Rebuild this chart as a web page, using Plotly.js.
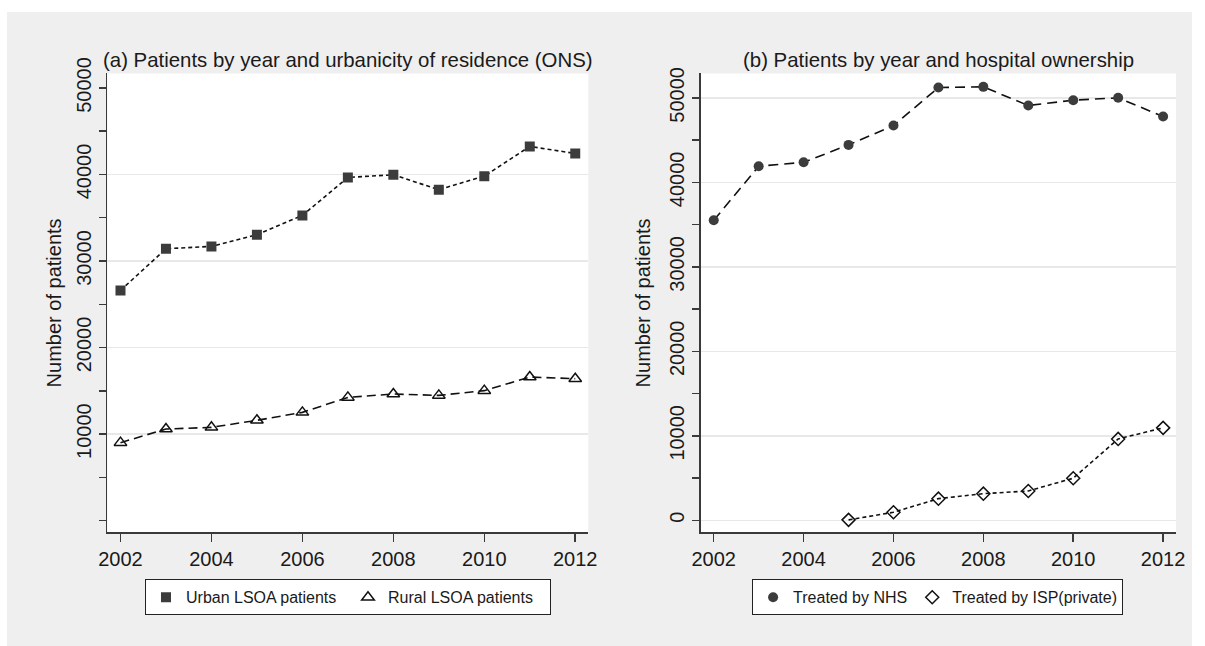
<!DOCTYPE html>
<html><head><meta charset="utf-8">
<script src="https://cdn.plot.ly/plotly-3.0.1.min.js"></script>
<style>
html,body{margin:0;padding:0;background:#ffffff;width:1205px;height:646px;overflow:hidden}
#chart{position:absolute;left:7px;top:12px;width:1185px;height:634px}
</style></head><body><div id="chart"></div>
<script>
// ---- data ----
const years = [2002, 2003, 2004, 2005, 2006, 2007, 2008, 2009, 2010, 2011, 2012];
const urban = [26600, 31420, 31690, 33040, 35270, 39660, 39970, 38240, 39810, 43240, 42430];
const rural = [9010, 10580, 10780, 11590, 12510, 14240, 14630, 14470, 15020, 16590, 16400];
const nhs   = [35500, 41900, 42370, 44430, 46720, 51220, 51300, 49090, 49720, 50000, 47780];
const ispYears = [2005, 2006, 2007, 2008, 2009, 2010, 2011, 2012];
const isp   = [50, 950, 2560, 3150, 3470, 4980, 9630, 10940];
const xTickVals = [2002, 2004, 2006, 2008, 2010, 2012];
const leftYTicks = [10000, 20000, 30000, 40000, 50000];
const leftGrid = [10000, 20000, 30000, 40000];
const rightYTicks = [0, 10000, 20000, 30000, 40000, 50000];
const titleA = '(a) Patients by year and urbanicity of residence (ONS)';
const titleB = '(b) Patients by year and hospital ownership';
const yTitle = 'Number of patients';

// ---- style ----
const FONT = 'Liberation Sans, Arial, sans-serif';
const TXT = '#1a1a1a';
const AX = '#3a3a3a';
const GRID = '#e8e8e8';
const MARK = '#3c3c3c';
const LINE = '#111111';
const SHORT = '4px,3px';
const LONG = '10px,6px';

function lineTrace(x, y, xa, ya, dash) {
  return {x: x, y: y, xaxis: xa, yaxis: ya, mode: 'lines', showlegend: false, hoverinfo: 'skip',
          line: {color: LINE, width: 1.6, dash: dash}};
}
function markTrace(x, y, xa, ya, name, marker, legend) {
  return {x: x, y: y, xaxis: xa, yaxis: ya, mode: 'markers', name: name, legend: legend,
          marker: marker};
}

const data = [
  lineTrace(years, urban, 'x', 'y', SHORT),
  lineTrace(years, rural, 'x', 'y', '9px,5px'),
  markTrace(years, urban, 'x', 'y', 'Urban LSOA patients', {symbol: 'square', size: 10, color: MARK}, 'legend'),
  markTrace(years, rural, 'x', 'y', 'Rural LSOA patients', {symbol: 'triangle-up-open', size: 11, color: LINE, line: {width: 1.5, color: LINE}}, 'legend'),
  {x: [], y: [], xaxis: 'x', yaxis: 'y3', mode: 'markers', showlegend: false, hoverinfo: 'skip'},
  lineTrace(years, nhs, 'x2', 'y2', LONG),
  lineTrace(ispYears, isp, 'x2', 'y2', SHORT),
  markTrace(years, nhs, 'x2', 'y2', 'Treated by NHS', {symbol: 'circle', size: 10, color: MARK}, 'legend2'),
  markTrace(ispYears, isp, 'x2', 'y2', 'Treated by ISP(private)', {symbol: 'diamond-open', size: 10, color: LINE, line: {width: 1.5, color: LINE}}, 'legend2')
];

const tickFont = {family: FONT, size: 20, color: TXT};
const yDom = [0.17934, 0.90300];
const leftDom = [0.08464, 0.49055];
const rightDom = [0.58540, 0.98650];

function xAxis(dom, anchor) {
  return {domain: dom, anchor: anchor, range: [2001.71, 2012.287], tickmode: 'array', tickvals: xTickVals,
          ticks: 'outside', ticklen: 8, tickwidth: 1.5, tickcolor: AX, showline: true, linecolor: AX,
          linewidth: 1.5, showgrid: false, zeroline: false, tickfont: tickFont, tickformat: 'd', fixedrange: true};
}
function yAxis(range, ticks, anchor, grid, standoff) {
  return {domain: yDom, anchor: anchor, range: range, tickmode: 'array', tickvals: ticks, tickangle: -90,
          tickformat: 'd',
          ticks: 'outside', ticklen: 7, tickwidth: 1.5, tickcolor: AX, showline: true, linecolor: AX,
          linewidth: 1.5, showgrid: grid, gridcolor: GRID, gridwidth: 1.5, zeroline: false,
          tickfont: tickFont, fixedrange: true,
          minor: {tickmode: 'linear', tick0: 0, dtick: 5000, ticks: 'outside', ticklen: 7, tickwidth: 1.5, tickcolor: AX, showgrid: false},
          title: {text: yTitle, font: {family: FONT, size: 20, color: TXT}, standoff: standoff}};
}
const legendBase = {orientation: 'h', xanchor: 'center', yanchor: 'top', y: 0.10521,
  bgcolor: '#ffffff', bordercolor: '#222222', borderwidth: 1,
  font: {family: FONT, size: 16, color: TXT}};

const layout = {
  width: 1185, height: 634,
  margin: {l: 0, r: 0, t: 0, b: 0, autoexpand: false},
  paper_bgcolor: '#efefef', plot_bgcolor: '#ffffff',
  font: {family: FONT, color: TXT},
  showlegend: true,
  xaxis: xAxis(leftDom, 'y'),
  yaxis: yAxis([-1350, 51670], leftYTicks, 'x', false, 6),
  yaxis3: {overlaying: 'y', anchor: 'x', range: [-1350, 51670], tickmode: 'array', tickvals: leftGrid,
           showticklabels: false, ticks: '', showline: false, showgrid: true, gridcolor: GRID, gridwidth: 1.5,
           zeroline: false, fixedrange: true},
  xaxis2: xAxis(rightDom, 'y2'),
  yaxis2: yAxis([-1422, 52880], rightYTicks, 'x2', true, 10),
  legend: Object.assign({}, legendBase, {x: 0.28776, entrywidth: 157, entrywidthmode: 'pixels'}),
  legend2: Object.assign({}, legendBase, {x: 0.78532}),
  annotations: [
    {text: titleA, xref: 'paper', yref: 'paper', x: (leftDom[0] + leftDom[1]) / 2, y: 0.92429,
     xanchor: 'center', yanchor: 'middle', showarrow: false, font: {family: FONT, size: 20.4, color: TXT}},
    {text: titleB, xref: 'paper', yref: 'paper', x: (rightDom[0] + rightDom[1]) / 2, y: 0.92429,
     xanchor: 'center', yanchor: 'middle', showarrow: false, font: {family: FONT, size: 20.4, color: TXT}}
  ]
};

Plotly.newPlot('chart', data, layout, {displayModeBar: false, staticPlot: true});
</script></body></html>
